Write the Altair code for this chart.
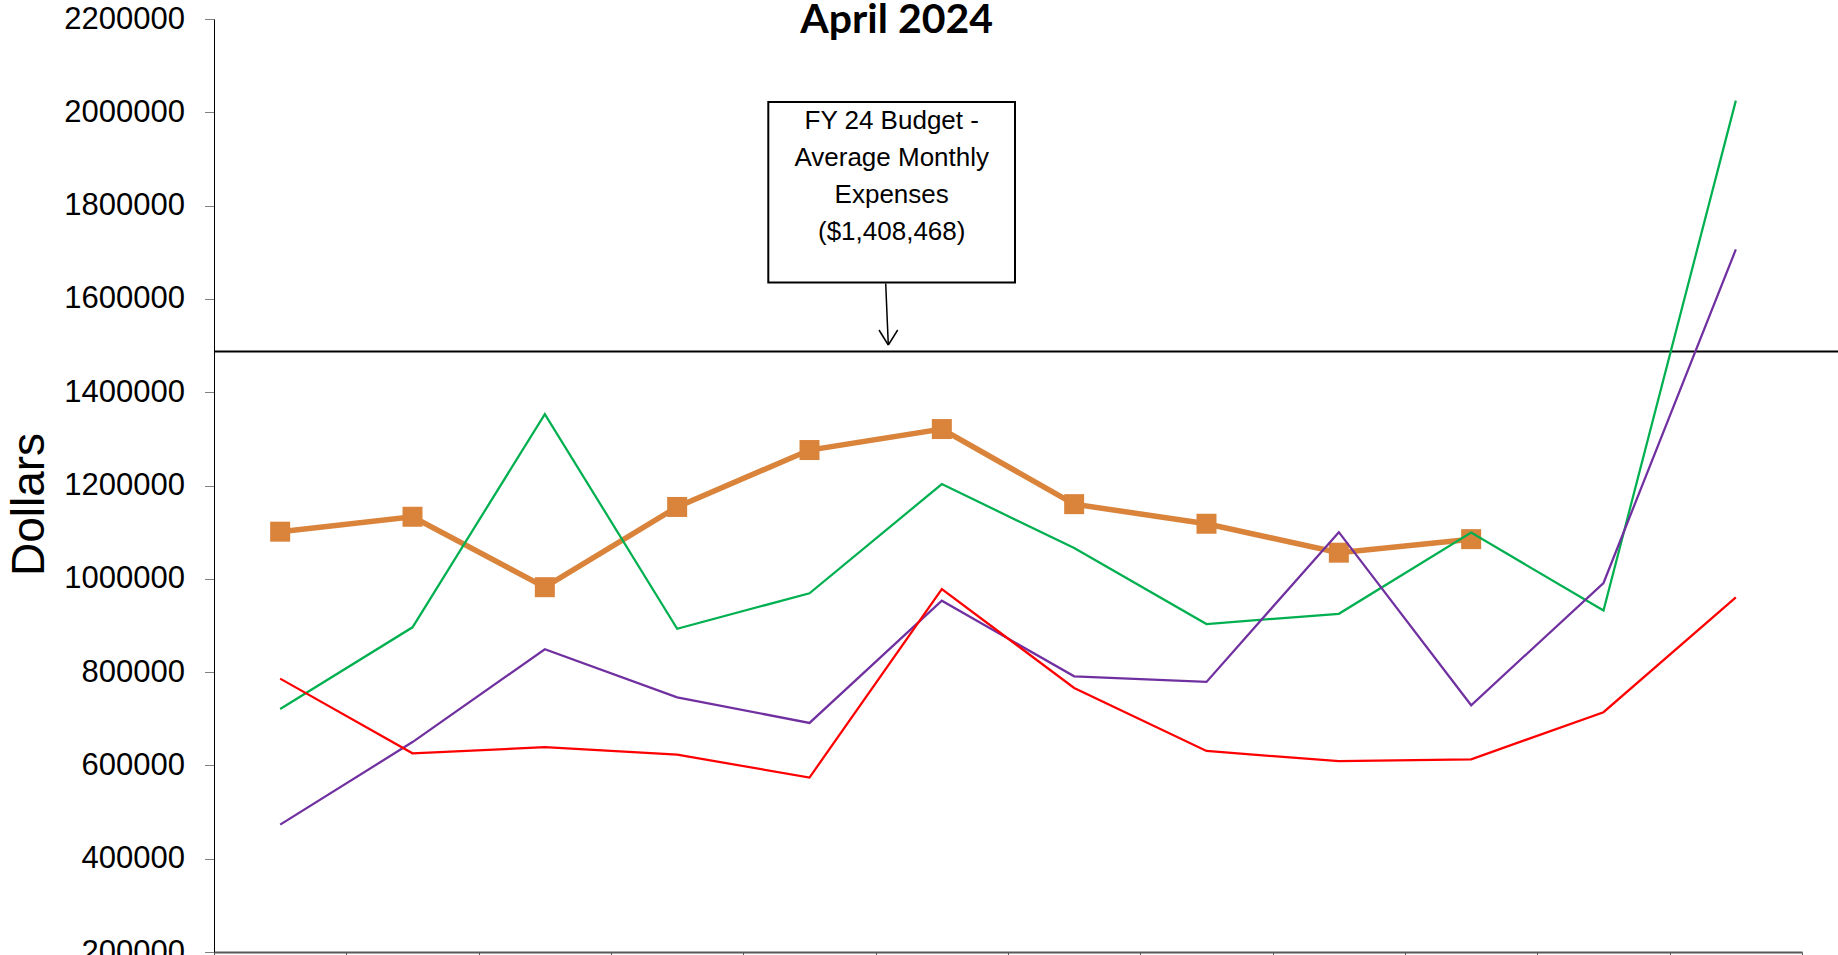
import altair as alt
import pandas as pd

# ---- data ----
months = ["Jul", "Aug", "Sep", "Oct", "Nov", "Dec", "Jan", "Feb", "Mar", "Apr", "May", "Jun"]
fy24 = [1101000, 1133000, 982000, 1154000, 1276000, 1321000, 1160000, 1118000, 1056000, 1085000]
fy23 = [721000, 896000, 1353000, 893000, 969000, 1203000, 1066000, 903000, 925000, 1099000, 932000, 2025000]
fy22 = [473000, 650000, 849000, 746000, 691000, 953000, 791000, 779000, 1100000, 729000, 991000, 1706000]
fy21 = [786000, 626000, 639000, 623000, 574000, 978000, 766000, 631000, 609000, 613000, 714000, 960000]
budget_value = 1487000
y_ticks = [200000, 400000, 600000, 800000, 1000000, 1200000, 1400000, 1600000,
           1800000, 2000000, 2200000]
series_names = ["FY 24", "FY 23", "FY 22", "FY 21"]
series_colors = ["#D9833B", "#00B050", "#7030A0", "#FF0000"]
annotation_lines = ["FY 24 Budget -", "Average Monthly", "Expenses", "($1,408,468)"]
chart_title = "April 2024"

W, H = 1588, 933

rows = []
for name, vals in zip(series_names, [fy24, fy23, fy22, fy21]):
    for m, v in zip(months, vals):
        rows.append({"month": m, "value": v, "series": name})
df = pd.DataFrame(rows)

x_enc = alt.X(
    "month:N", sort=months, bandPosition=0.5,
    scale=alt.Scale(type="band", paddingInner=0, paddingOuter=0),
    axis=alt.Axis(title=None, labels=False, tickBand="extent", grid=False,
                  domainColor="#595959", domainWidth=2, tickColor="#595959",
                  tickSize=6),
)
y_enc = alt.Y(
    "value:Q",
    scale=alt.Scale(domain=[200000, 2200000], nice=False, zero=False),
    axis=alt.Axis(values=y_ticks, format="d", grid=False, title="Dollars",
                  titleFont="Liberation Sans", titleFontSize=46,
                  titleFontWeight="normal", titleColor="black", titleAngle=270,
                  titleX=-171, titleY=485, titleBaseline="alphabetic",
                  titleAlign="center", labelFont="Liberation Sans",
                  labelFontSize=31, labelColor="black", labelPadding=20,
                  tickSize=9.5, tickColor="#808080", domainColor="black",
                  domainWidth=1),
)
color_enc = alt.Color("series:N", scale=alt.Scale(domain=series_names, range=series_colors),
                      legend=None)

base = alt.Chart(df).encode(x=x_enc, y=y_enc, color=color_enc)

orange = base.transform_filter(alt.datum.series == "FY 24").mark_line(
    strokeWidth=5.5,
    point=alt.OverlayMarkDef(shape="square", size=400, filled=True, opacity=1,
                             fill=series_colors[0]),
)
thin = base.transform_filter(alt.datum.series != "FY 24").mark_line(strokeWidth=2.25)

budget = alt.Chart(pd.DataFrame({"v": [budget_value]})).mark_rule(
    color="black", strokeWidth=2
).encode(y=alt.Y("v:Q"), x=alt.value(0), x2=alt.value(W + 36))

one = pd.DataFrame({"a": [0]})
title_text = alt.Chart(one).mark_text(
    text=chart_title, font="Lato", fontSize=41, fontWeight="bold",
    align="center", baseline="alphabetic", color="black"
).encode(x=alt.value(682.7), y=alt.value(14.3))
box = alt.Chart(one).mark_rect(fill="white", stroke="black", strokeWidth=2).encode(
    x=alt.value(554.3), x2=alt.value(801), y=alt.value(83), y2=alt.value(263.5)
)
box_text = alt.Chart(one).mark_text(
    text=annotation_lines, lineHeight=37, font="Liberation Sans", fontSize=26,
    align="center", baseline="alphabetic", color="black"
).encode(x=alt.value(677.7), y=alt.value(110))
shaft = alt.Chart(one).mark_rule(color="black", strokeWidth=1.5).encode(
    x=alt.value(671.7), x2=alt.value(674.3), y=alt.value(264.5), y2=alt.value(326)
)
arm_l = alt.Chart(one).mark_rule(color="black", strokeWidth=1.5).encode(
    x=alt.value(665), x2=alt.value(674.3), y=alt.value(311), y2=alt.value(326)
)
arm_r = alt.Chart(one).mark_rule(color="black", strokeWidth=1.5).encode(
    x=alt.value(683.7), x2=alt.value(674.3), y=alt.value(311), y2=alt.value(326)
)

chart = alt.layer(budget, orange, thin, box, box_text, shaft, arm_l, arm_r,
                  title_text).properties(
    width=W, height=H,
    padding={"left": 214, "top": 19, "right": 36, "bottom": 80},
    autosize=alt.AutoSizeParams(type="none"),
    background="white",
).configure_view(stroke=None)

chart.save("out.html", embed_options={"renderer": "svg", "actions": False})
